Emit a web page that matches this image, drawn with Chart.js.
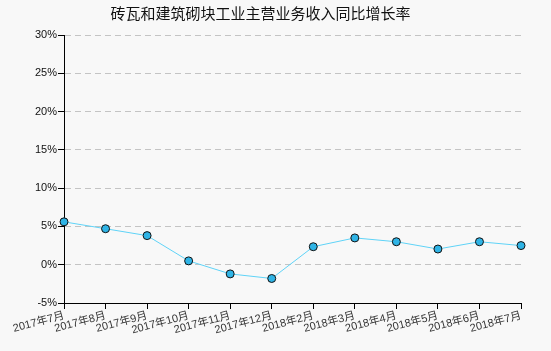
<!DOCTYPE html>
<html>
<head>
<meta charset="utf-8">
<script src="https://cdn.jsdelivr.net/npm/chart.js@4/dist/chart.umd.min.js"></script>
<style>
html,body{margin:0;padding:0;background:#f8f8f8;}
#wrap{width:551px;height:351px;position:relative;}
</style>
</head>
<body>
<div id="wrap"><canvas id="c" width="551" height="351"></canvas></div>
<script>
const titleText = '砖瓦和建筑砌块工业主营业务收入同比增长率';
const categories = ['2017年7月','2017年8月','2017年9月','2017年10月','2017年11月','2017年12月','2018年2月','2018年3月','2018年4月','2018年5月','2018年6月','2018年7月'];
const growthValues = [5.6, 4.7, 3.8, 0.5, -1.2, -1.8, 2.35, 3.5, 3.0, 2.05, 3.0, 2.5];
const yTicks = [-5, 0, 5, 10, 15, 20, 25, 30];

const fontFamily = '"Liberation Sans", "Noto Sans CJK SC", sans-serif';

new Chart(document.getElementById('c'), {
  type: 'line',
  data: {
    labels: categories,
    datasets: [{
      data: growthValues,
      borderColor: '#5fd3f7',
      borderWidth: 1,
      pointBackgroundColor: '#2fb4e6',
      pointBorderColor: '#111',
      pointBorderWidth: 1,
      pointRadius: 4,
      tension: 0,
      fill: false
    }]
  },
  options: {
    responsive: false,
    animation: false,
    devicePixelRatio: 1,
    layout: { padding: { left: 0, right: 30, top: 0, bottom: 0 } },
    plugins: {
      legend: { display: false },
      tooltip: { enabled: false },
      title: {
        display: true,
        text: titleText,
        color: '#111',
        font: { family: '"Noto Sans CJK SC", sans-serif', size: 15, weight: 'normal' },
        padding: { top: 4, bottom: 13 }
      }
    },
    scales: {
      x: {
        type: 'category',
        offset: false,
        grid: { drawOnChartArea: false, drawTicks: true, tickLength: 6, tickColor: '#000', color: '#000' },
        border: { display: true, color: '#000', width: 1 },
        ticks: {
          color: '#333',
          font: { family: fontFamily, size: 11 },
          minRotation: 15, maxRotation: 15,
          autoSkip: false,
          padding: 0
        },
        afterFit: s => { s.height = 48; }
      },
      y: {
        min: -5, max: 30,
        afterBuildTicks: s => { s.ticks = yTicks.map(v => ({ value: v })); },
        grid: { color: '#c4c4c4', lineWidth: 1, tickColor: '#000', tickLength: 6, drawTicks: true },
        border: { display: true, color: '#000', width: 1, dash: [6, 4] },
        ticks: {
          color: '#111',
          font: { family: fontFamily, size: 11 },
          padding: 1,
          callback: v => v + '%'
        },
        afterFit: s => { s.width = 64; }
      }
    }
  }
});
</script>
</body>
</html>
